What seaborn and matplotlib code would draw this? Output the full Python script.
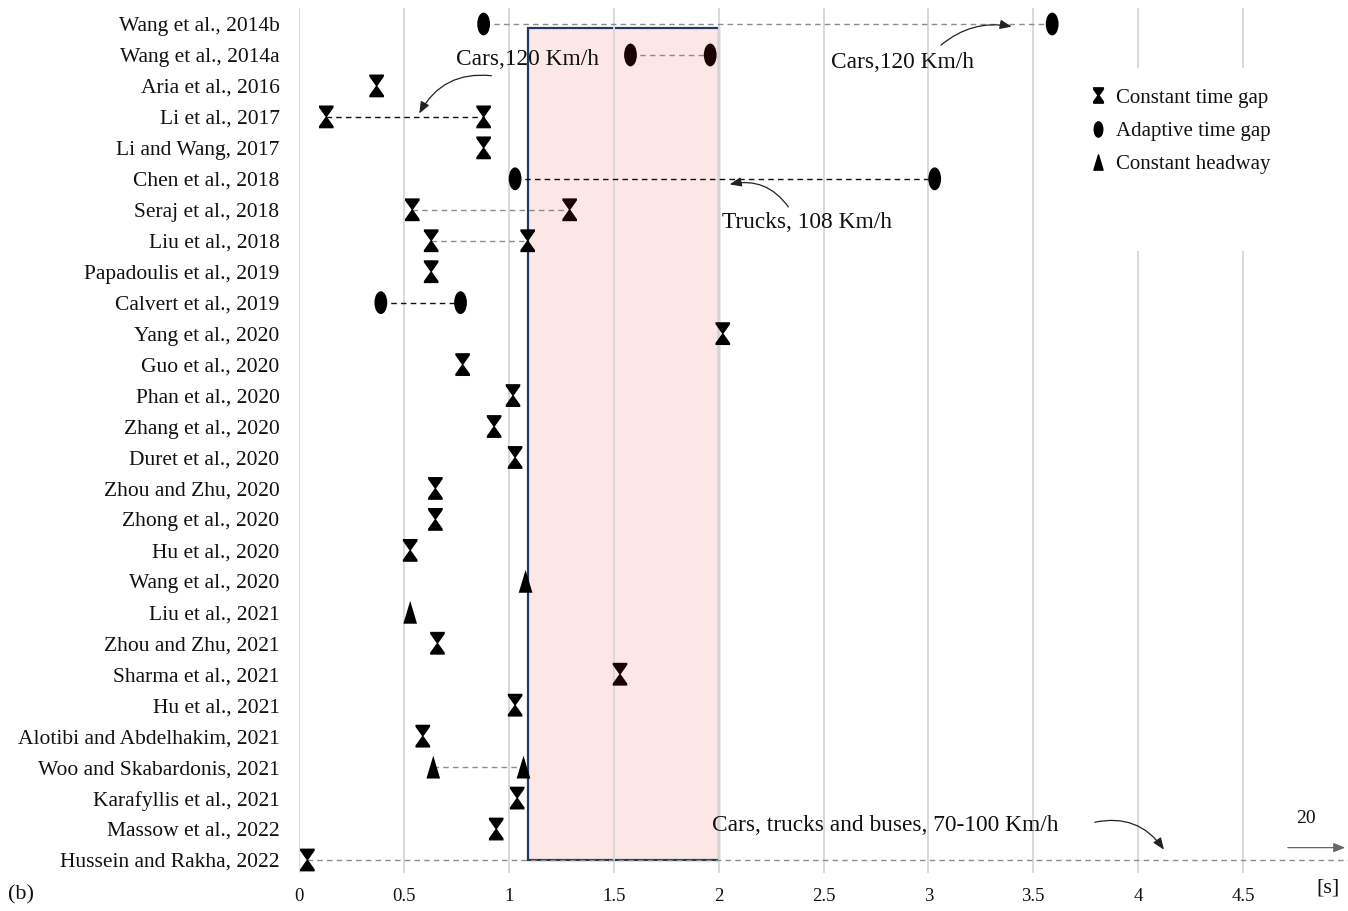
import numpy as np
import pandas as pd
import matplotlib
matplotlib.use("Agg")
import matplotlib.pyplot as plt
import seaborn as sns
from matplotlib.path import Path
from matplotlib.patches import Rectangle
from matplotlib.lines import Line2D

# ---------------- data ----------------
studies = [
    "Wang et al., 2014b", "Wang et al., 2014a", "Aria et al., 2016", "Li et al., 2017",
    "Li and Wang, 2017", "Chen et al., 2018", "Seraj et al., 2018", "Liu et al., 2018",
    "Papadoulis et al., 2019", "Calvert et al., 2019", "Yang et al., 2020", "Guo et al., 2020",
    "Phan et al., 2020", "Zhang et al., 2020", "Duret et al., 2020", "Zhou and Zhu, 2020",
    "Zhong et al., 2020", "Hu et al., 2020", "Wang et al., 2020", "Liu et al., 2021",
    "Zhou and Zhu, 2021", "Sharma et al., 2021", "Hu et al., 2021", "Alotibi and Abdelhakim, 2021",
    "Woo and Skabardonis, 2021", "Karafyllis et al., 2021", "Massow et al., 2022", "Hussein and Rakha, 2022",
]

# individual points: study, time gap [s], policy, tone
pt_study = [
    "Wang et al., 2014b", "Wang et al., 2014b",
    "Wang et al., 2014a", "Wang et al., 2014a",
    "Aria et al., 2016",
    "Li et al., 2017", "Li et al., 2017",
    "Li and Wang, 2017",
    "Chen et al., 2018", "Chen et al., 2018",
    "Seraj et al., 2018", "Seraj et al., 2018",
    "Liu et al., 2018", "Liu et al., 2018",
    "Papadoulis et al., 2019",
    "Calvert et al., 2019", "Calvert et al., 2019",
    "Yang et al., 2020", "Guo et al., 2020", "Phan et al., 2020", "Zhang et al., 2020",
    "Duret et al., 2020", "Zhou and Zhu, 2020", "Zhong et al., 2020", "Hu et al., 2020",
    "Wang et al., 2020", "Liu et al., 2021", "Zhou and Zhu, 2021", "Sharma et al., 2021",
    "Hu et al., 2021", "Alotibi and Abdelhakim, 2021",
    "Woo and Skabardonis, 2021", "Woo and Skabardonis, 2021",
    "Karafyllis et al., 2021", "Massow et al., 2022",
    "Hussein and Rakha, 2022", "Hussein and Rakha, 2022",
]
pt_value = [
    0.88, 3.59,
    1.58, 1.96,
    0.37,
    0.13, 0.88,
    0.88,
    1.03, 3.03,
    0.54, 1.29,
    0.63, 1.09,
    0.63,
    0.39, 0.77,
    2.02, 0.78, 1.02, 0.93,
    1.03, 0.65, 0.65, 0.53,
    1.08, 0.53, 0.66, 1.53,
    1.03, 0.59,
    0.64, 1.07,
    1.04, 0.94,
    0.04, 20.0,
]
pt_policy = [
    "Adaptive time gap", "Adaptive time gap",
    "Adaptive time gap", "Adaptive time gap",
    "Constant time gap",
    "Constant time gap", "Constant time gap",
    "Constant time gap",
    "Adaptive time gap", "Adaptive time gap",
    "Constant time gap", "Constant time gap",
    "Constant time gap", "Constant time gap",
    "Constant time gap",
    "Adaptive time gap", "Adaptive time gap",
    "Constant time gap", "Constant time gap", "Constant time gap", "Constant time gap",
    "Constant time gap", "Constant time gap", "Constant time gap", "Constant time gap",
    "Constant headway", "Constant headway", "Constant time gap", "Constant time gap",
    "Constant time gap", "Constant time gap",
    "Constant headway", "Constant headway",
    "Constant time gap", "Constant time gap",
    "Constant time gap", "Constant time gap",
]
pt_tone = [
    "black", "black",
    "dark", "dark",
    "black",
    "black", "black",
    "black",
    "black", "black",
    "black", "dark",
    "black", "black",
    "black",
    "black", "black",
    "black", "black", "black", "black",
    "black", "black", "black", "black",
    "black", "black", "black", "dark",
    "black", "black",
    "black", "black",
    "black", "black",
    "black", "black",
]

# ranges linking two values of one study
link_study = ["Wang et al., 2014b", "Wang et al., 2014a", "Li et al., 2017", "Chen et al., 2018",
              "Seraj et al., 2018", "Liu et al., 2018", "Calvert et al., 2019",
              "Woo and Skabardonis, 2021", "Hussein and Rakha, 2022"]
link_start = [0.88, 1.58, 0.13, 1.03, 0.54, 0.63, 0.39, 0.64, 0.04]
link_end = [3.59, 1.96, 0.88, 3.03, 1.29, 1.09, 0.77, 1.07, 20.0]
link_tone = ["gray", "gray", "black", "black", "gray", "gray", "black", "gray", "gray"]

# highlighted band
band_lo, band_hi = 1.09, 2.0

xticks = [0, 0.5, 1, 1.5, 2, 2.5, 3, 3.5, 4, 4.5]
xtick_labels = ["0", "0.5", "1", "1.5", "2", "2.5", "3", "3.5", "4", "4.5"]

# ---------------- markers ----------------
hourglass = Path([(-0.32, 0.5), (0.32, 0.5), (0.32, 0.41), (0.03, 0.0), (0.32, -0.41),
                  (0.32, -0.5), (-0.32, -0.5), (-0.32, -0.41), (-0.03, 0.0), (-0.32, 0.41),
                  (-0.32, 0.5)],
                 [Path.MOVETO] + [Path.LINETO] * 9 + [Path.CLOSEPOLY])
circ = Path.unit_circle()
ellipse = Path(circ.vertices * np.array([0.28, 0.5]), circ.codes)
tri = Path([(-0.3, -0.5), (0.3, -0.5), (0.0, 0.5), (-0.3, -0.5)],
           [Path.MOVETO, Path.LINETO, Path.LINETO, Path.CLOSEPOLY])
marker_map = {"Constant time gap": hourglass, "Adaptive time gap": ellipse, "Constant headway": tri}
tone_map = {"black": "#000000", "dark": "#1c0303"}
link_colors = {"black": "#111111", "gray": "#8c8c8c"}

# ---------------- figure ----------------
sns.set_style("white")
plt.rcParams["font.family"] = ["Liberation Serif", "DejaVu Serif"]
plt.rcParams["text.color"] = "#111111"
plt.rcParams["xtick.color"] = "#111111"
plt.rcParams["ytick.color"] = "#111111"

fig = plt.figure(figsize=(13.48, 9.11), dpi=100)
ax = fig.add_axes([299 / 1348, 1 - 873 / 911, 1 - 299 / 1348, (873 - 8) / 911])

row_of = {s: i for i, s in enumerate(studies)}
df = pd.DataFrame({"study": pt_study, "value": pt_value, "policy": pt_policy, "tone": pt_tone})
df["row"] = df["study"].map(row_of)

# grid
for xt in xticks:
    ax.axvline(xt, color="#d9d9d9", lw=1.4, zorder=0.5)

# band
ax.add_patch(Rectangle((band_lo, 0.13), band_hi - band_lo, len(studies) - 1 - 0.13,
                       facecolor="#fde6e6", edgecolor="#1f3a64", lw=1.6, zorder=0.3))

# white area behind the legend
ax.add_patch(Rectangle((3.74, 1.42), 1.03, 5.9, facecolor="white", edgecolor="none", zorder=0.6))

# links
for s, a, b, t in zip(link_study, link_start, link_end, link_tone):
    r = row_of[s]
    ax.plot([a, b], [r, r], ls=(0, (4, 3)), lw=1.0, color=link_colors[t], zorder=1.5)

# points
sns.scatterplot(data=df, x="value", y="row", style="policy", hue="tone",
                markers=marker_map, palette=tone_map, s=270, linewidth=0,
                legend=False, ax=ax, zorder=3)

ax.set_xlim(0, 5)
ax.set_ylim(27.42, -0.517)
ax.set_xticks(xticks)
ax.set_xticklabels(xtick_labels, fontsize=13.5)
ax.set_yticks(range(len(studies)))
ax.set_yticklabels(studies, fontsize=15.5)
ax.tick_params(axis="x", length=0, pad=11)
ax.tick_params(axis="y", length=0, pad=14)
ax.set_xlabel("")
ax.set_ylabel("")
for sp in ax.spines.values():
    sp.set_visible(False)

# annotations
tfs = 16.8
aprops = dict(arrowstyle="-|>,head_length=0.7,head_width=0.28", color="#222222", lw=0.9)
ax.text(1.09, 1.16, "Cars,120 Km/h", fontsize=tfs, ha="center", va="center", zorder=4)
ax.annotate("", xy=(0.567, 2.97), xytext=(0.93, 1.68),
            arrowprops=dict(aprops, connectionstyle="arc3,rad=0.35"), zorder=4)
ax.text(2.876, 1.23, "Cars,120 Km/h", fontsize=tfs, ha="center", va="center", zorder=4)
ax.annotate("", xy=(3.41, 0.10), xytext=(3.05, 0.74),
            arrowprops=dict(aprops, connectionstyle="arc3,rad=-0.25"), zorder=4)
ax.text(2.42, 6.40, "Trucks, 108 Km/h", fontsize=tfs, ha="center", va="center", zorder=4)
ax.annotate("", xy=(2.04, 5.2), xytext=(2.34, 5.98),
            arrowprops=dict(aprops, connectionstyle="arc3,rad=0.35"), zorder=4)
ax.text(1.967, 25.9, "Cars, trucks and buses, 70-100 Km/h", fontsize=tfs, ha="left", va="center", zorder=4)
ax.annotate("", xy=(4.13, 26.74), xytext=(3.78, 25.8),
            arrowprops=dict(aprops, connectionstyle="arc3,rad=-0.35"), zorder=4)
ax.text(4.80, 25.67, "20", fontsize=14, ha="center", va="center", zorder=4)
ax.annotate("", xy=(5.0, 26.6), xytext=(4.70, 26.6),
            arrowprops=dict(arrowstyle="-|>,head_length=0.7,head_width=0.28", color="#666666", lw=0.9),
            zorder=4, annotation_clip=False)

fig.text(8 / 1348, 1 - 895 / 911, "(b)", fontsize=16, ha="left", va="center")
fig.text(1328 / 1348, 1 - 888 / 911, "[s]", fontsize=16, ha="center", va="center")

# legend
handles = [Line2D([], [], ls="none", marker=marker_map[k], color="black", markersize=11)
           for k in ["Constant time gap", "Adaptive time gap", "Constant headway"]]
ax.legend(handles, ["Constant time gap", "Adaptive time gap", "Constant headway"],
          loc="upper left", bbox_to_anchor=(1091 / 1348, 1 - 88 / 911), bbox_transform=fig.transFigure,
          frameon=False, fontsize=15, handlelength=0.7, handletextpad=0.5, labelspacing=0.66,
          borderpad=0, borderaxespad=0)

fig.savefig("out.png", dpi=100)
